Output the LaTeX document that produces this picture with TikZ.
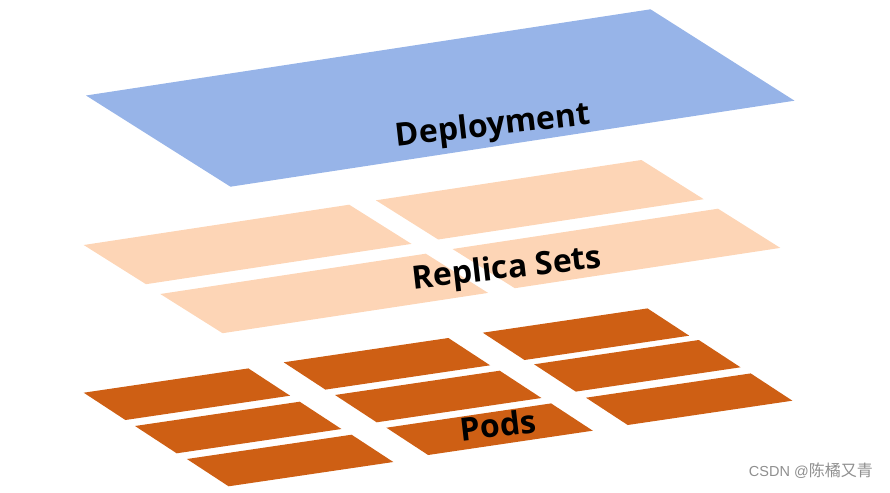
\documentclass[tikz,border=0pt]{standalone}
\usepackage{fontspec}
\setmainfont{Open Sans}
\newfontfamily\cjkfont{Noto Sans CJK SC}
\newfontfamily\wmlatin{Liberation Sans}
\definecolor{deplblue}{HTML}{97B4E8}
\definecolor{rspeach}{HTML}{FDD5B6}
\definecolor{podorange}{HTML}{CE5F14}
\definecolor{wmgray}{HTML}{8F8F8F}
\begin{document}
\begin{tikzpicture}[x=1pt,y=-1pt,
  layerlabel/.style={font=\bfseries\fontsize{32}{36}\selectfont, text=black, rotate=6.5, inner sep=0pt},
  watermark/.style={text=wmgray, inner sep=0pt, anchor=east}]
\useasboundingbox (0,0) rectangle (890,492);
% Deployment
\fill[deplblue] (86,95.5) -- (650.5,9.3) -- (794.5,100.7) -- (230.5,186.7) -- cycle;
% Replica sets
\foreach \x/\y in {83.7/245, 375.9/200.3, 160.3/294, 452.5/249}
  \fill[rspeach] (\x,\y) -- ++(265.5,-40.3) -- ++(62.3,39.2) -- ++(-265.5,40.3) -- cycle;
% Pods
\foreach \x/\y in {83.7/392.7, 135.0/426, 186.9/459, 283.7/362.3, 335.0/395, 386.4/427.7, 482.8/332.7, 534.1/364.3, 586.0/397.7}
  \fill[podorange] (\x,\y) -- ++(164.7,-24.3) -- ++(41.7,27.3) -- ++(-164.7,24.3) -- cycle;
% Labels
\node[layerlabel] (deploy) at (493,127) {Deployment};
\node[layerlabel] (rs) at (507,270) {Replica Sets};
\node[layerlabel] (pods) at (498,425) {Pods};
\node[watermark] (wm) at (873,471) {{\wmlatin\fontsize{14.5}{16}\selectfont CSDN @}{\cjkfont\fontsize{16}{18}\selectfont 陈橘又青}};
\end{tikzpicture}
\end{document}
